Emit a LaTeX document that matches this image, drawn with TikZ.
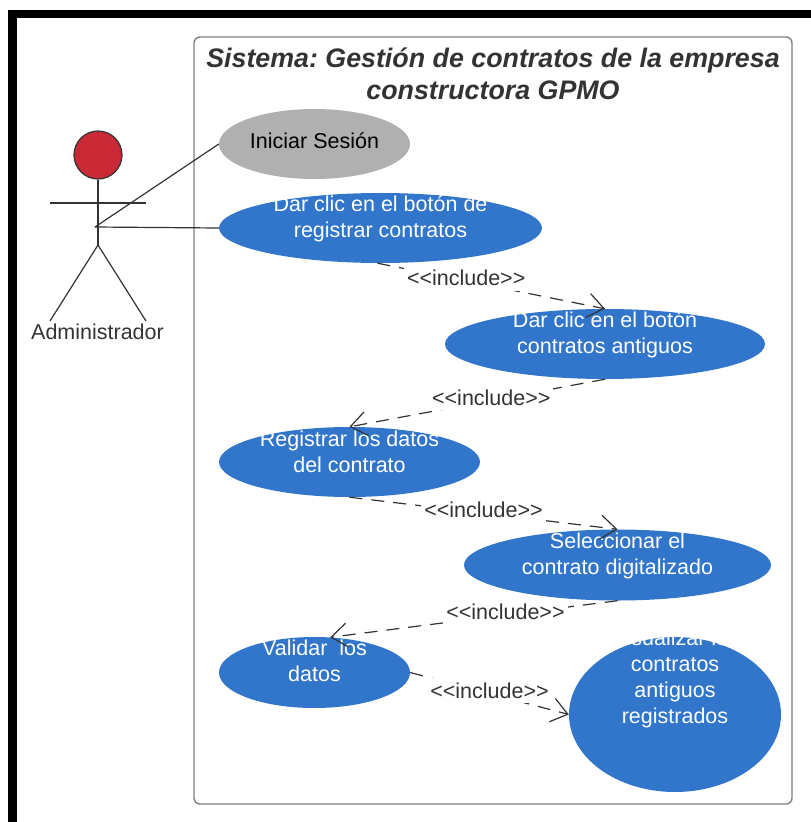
\documentclass[tikz,border=0pt]{standalone}
\usepackage{fontspec}
\setmainfont{Liberation Sans}
\usetikzlibrary{arrows.meta,shapes.geometric}
\definecolor{casoazul}{HTML}{3276CC}
\definecolor{casogris}{HTML}{B0B0B0}
\definecolor{cabeza}{HTML}{C92A35}
\definecolor{trazo}{HTML}{333333}
\frenchspacing
\tikzset{
    caso/.style={ellipse,fill=casoazul,text=white,inner sep=0pt,align=center,
        font=\fontsize{21.5}{26}\selectfont,text height=#1},
    caso/.default=23.5pt,
    incluye/.style={draw=trazo,line width=1.2pt,dash pattern=on 13pt off 9pt,
        -{Straight Barb[length=16pt,width=24pt]}},
    etiqueta/.style={fill=white,solid,inner xsep=3pt,inner ysep=5pt,text=trazo,
        font=\fontsize{21.5}{24}\selectfont},
    linea/.style={draw=trazo,line width=1.2pt}
}

\begin{document}
\begin{tikzpicture}[x=1pt,y=-1pt]
    \useasboundingbox (0,0) rectangle (811,822);
    % marco
    \fill[black] (8,10) rectangle (811,18);
    \fill[black] (8,10) rectangle (16.5,822);
    \draw[gray,line width=1.4pt,rounded corners=6pt] (194,37) rectangle (792,804);
    \node[align=center,text=trazo,font=\fontsize{26.8}{32}\selectfont\bfseries\itshape]
        (titulo) at (493,74) {Sistema: Gestión de contratos de la empresa\\constructora GPMO};

    % actor
    \node[circle,draw=trazo,fill=cabeza,line width=1.2pt,minimum size=48pt,inner sep=0pt]
        (cabeza) at (98,155) {};
    \coordinate (cadera) at (98,245);
    \coordinate (mano) at (95,227);
    \coordinate (brazoi) at (50,203);
    \coordinate (brazod) at (146,203);
    \coordinate (piei) at (50,321);
    \coordinate (pied) at (146,321);
    \draw[linea] (cabeza) -- (cadera);
    \draw[linea] (brazoi) -- (brazod);
    \draw[linea] (piei) -- (cadera) -- (pied);
    \node[text=trazo,font=\fontsize{21.5}{24}\selectfont] (admin) at (97.5,332) {Administrador};

    % casos de uso
    \node[caso=16pt,fill=casogris,text=black,minimum width=191pt,minimum height=70pt,
        text depth=8pt] (iniciar) at (314.5,144) {Iniciar Sesión};
    \node[caso,minimum width=323pt,minimum height=70pt]
        (clicreg) at (380.5,228) {Dar clic en el botón de\\registrar contratos};
    \node[caso,minimum width=320pt,minimum height=70pt]
        (clicant) at (605,344) {Dar clic en el botón\\contratos antiguos};
    \node[caso=21.5pt,minimum width=261pt,minimum height=70pt]
        (registrar) at (349.5,462) {Registrar los datos\\del contrato};
    \node[caso,minimum width=307pt,minimum height=71pt]
        (seleccionar) at (617.5,565) {Seleccionar el\\contrato digitalizado};
    \node[caso=17.5pt,minimum width=191pt,minimum height=71pt]
        (validar) at (314.5,672.5) {Validar\ \ los\\datos};
    \node[caso=21.5pt,minimum width=212pt,minimum height=155pt]
        (visualizar) at (675,714.5) {VIsualizar los\\contratos\\antiguos\\registrados};

    \draw[linea] (mano) -- (iniciar.west);
    \draw[linea] (mano) -- (clicreg.west);

    \foreach \desde/\hasta/\p in {clicreg.265/clicant.north/.39,clicant.south/registrar.north/.445,
        registrar.south/seleccionar.north/.5,seleccionar.south/validar.66/.39,validar.east/visualizar.west/.5} {
        \draw[incluye] (\desde) -- (\hasta) node[etiqueta,pos=\p,yshift=3pt] (inc\p) {<{}<include>{}>};
    }
\end{tikzpicture}
\end{document}
